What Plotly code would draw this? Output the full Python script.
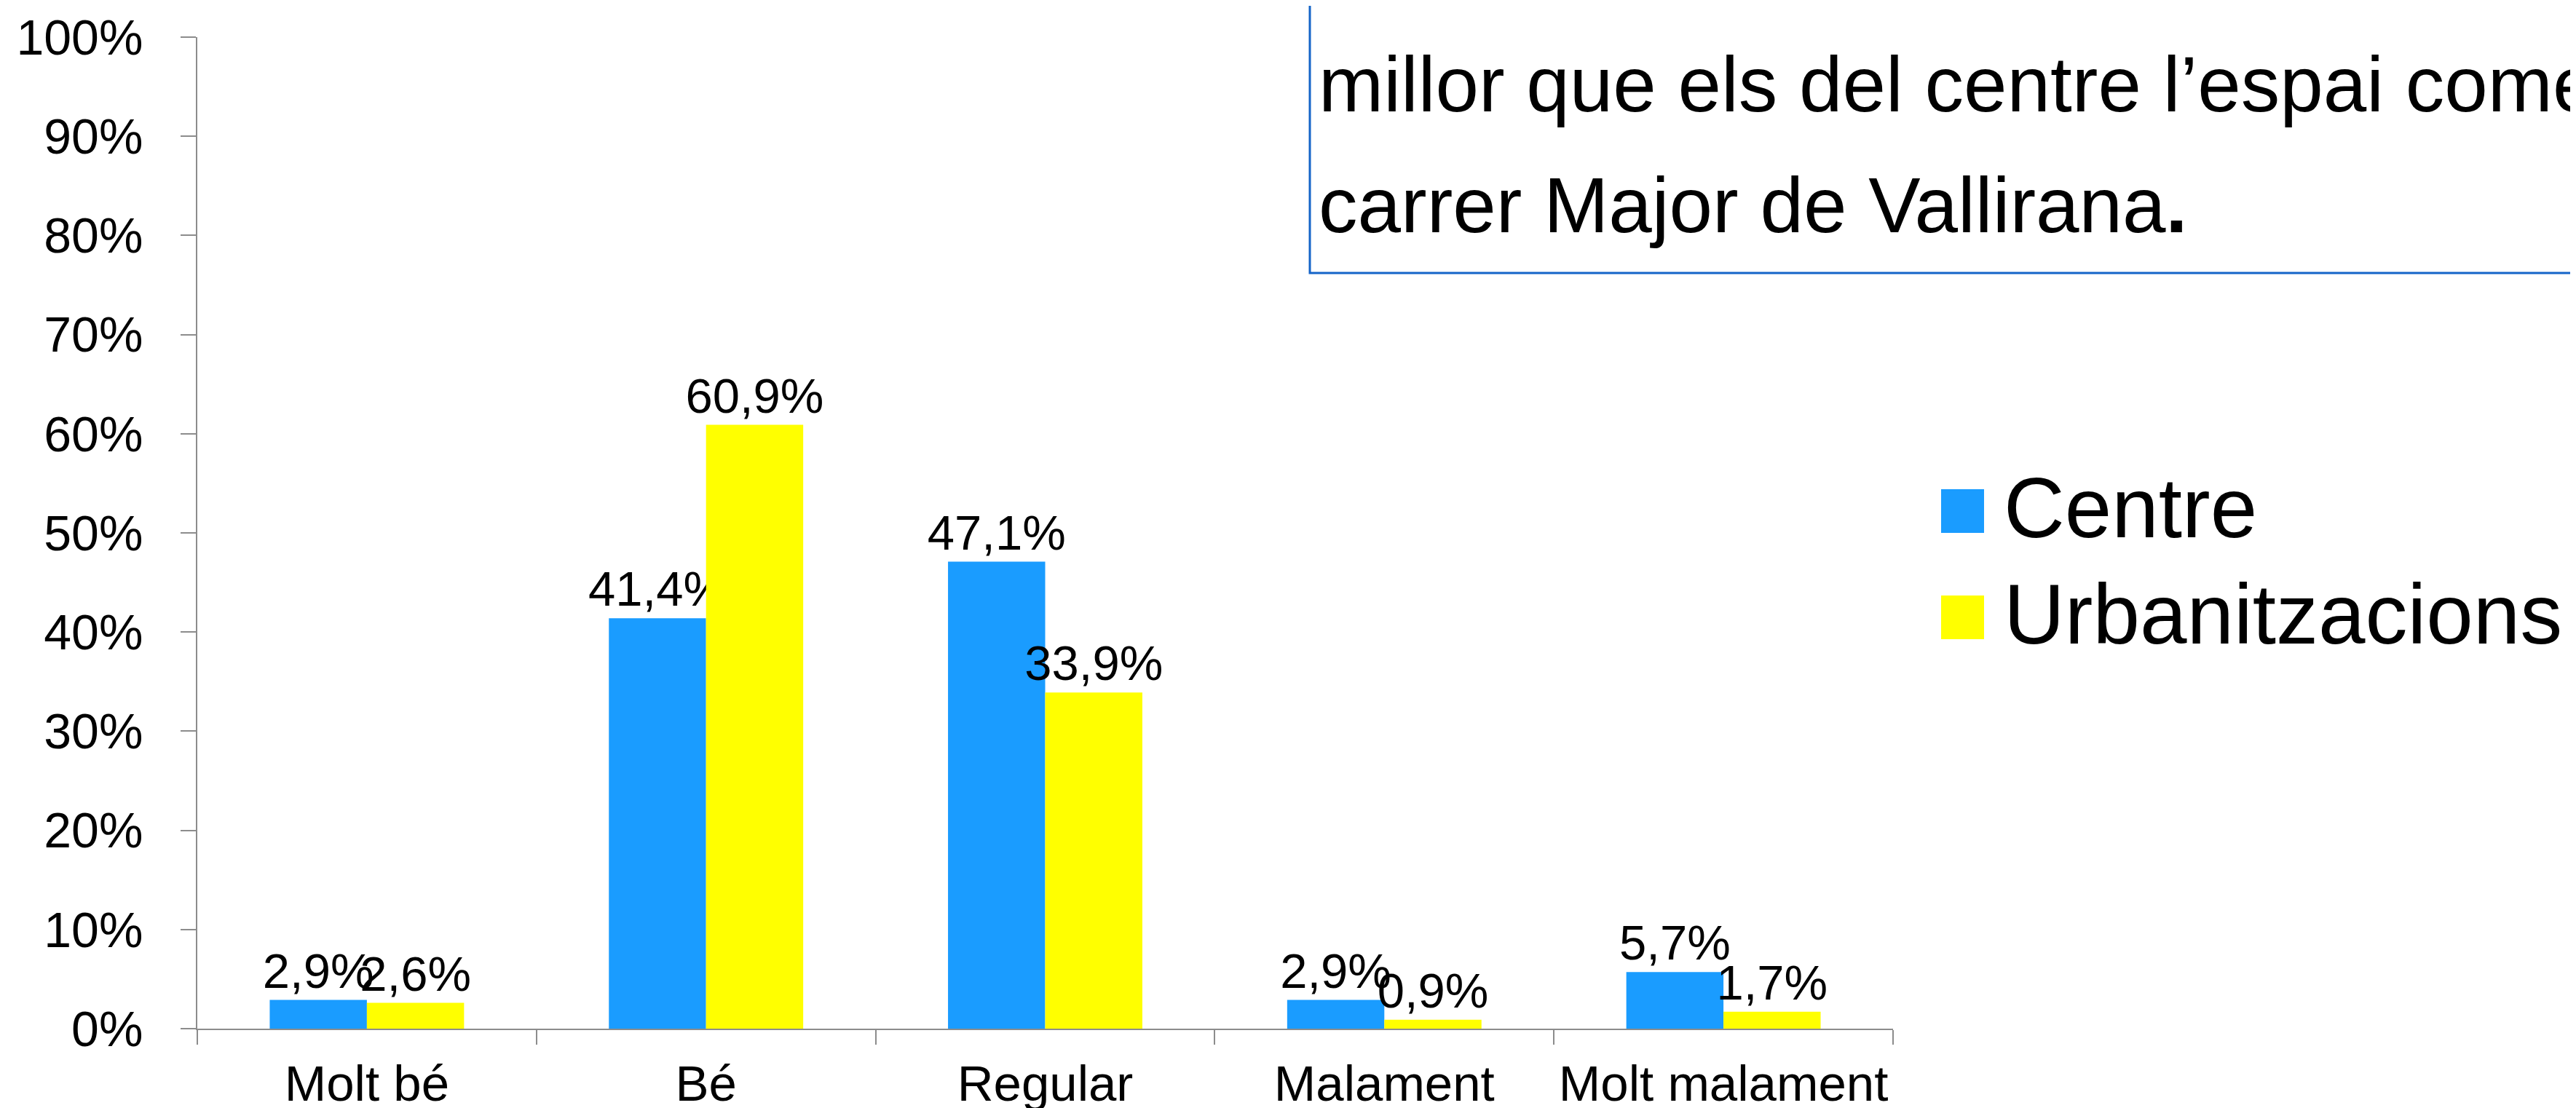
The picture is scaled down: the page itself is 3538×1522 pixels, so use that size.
import plotly.graph_objects as go

categories = ["Molt bé", "Bé", "Regular", "Malament", "Molt malament"]
series_names = ["Centre", "Urbanitzacions"]
centre_values = [2.9, 41.4, 47.1, 2.9, 5.7]
urban_values = [2.6, 60.9, 33.9, 0.9, 1.7]
series_colors = ["#1A9CFF", "#FFFF00"]
y_ticks = [0, 10, 20, 30, 40, 50, 60, 70, 80, 90, 100]
box_lines = ["millor que els del centre l’espai comercial del",
             "carrer Major de Vallirana<b>.</b>"]

W, H = 3538, 1522
L, R, T, B = 263, 2592, 43, 1405
FONT = "Liberation Sans, Arial, sans-serif"
AXIS_COLOR = "#8C8C8C"


def px(x):
    return (x - L) / (R - L)


def py(y):
    return (B - y) / (B - T)


fig = go.Figure()
for name, vals, col in zip(series_names, [centre_values, urban_values], series_colors):
    fig.add_trace(go.Bar(
        x=categories, y=vals, name=name,
        marker=dict(color=col, line=dict(width=0)),
        texttemplate="%{y:.1f}%", textposition="outside",
        constraintext="none", cliponaxis=False,
        textfont=dict(family=FONT, size=67, color="#000000"),
        showlegend=False,
    ))

shapes = []
annotations = []

# legend (drawn manually so that the swatches can be large)
legend_rows = [694, 840]
for name, col, yc in zip(series_names, series_colors, legend_rows):
    shapes.append(dict(type="rect", xref="paper", yref="paper",
                       x0=px(2658), x1=px(2717), y0=py(yc + 30), y1=py(yc - 30),
                       fillcolor=col, line=dict(width=0)))
    annotations.append(dict(text=name, xref="paper", yref="paper",
                            x=px(2742), y=py(yc - 4), xanchor="left", yanchor="middle",
                            showarrow=False,
                            font=dict(family=FONT, size=116, color="#000000")))

# text box in top-right corner
shapes.append(dict(type="rect", xref="paper", yref="paper",
                   x0=px(1791), x1=px(3700), y0=py(367), y1=py(-30),
                   line=dict(color="#1464C8", width=3), fillcolor="rgba(0,0,0,0)"))
for line, base in zip(box_lines, [145, 311]):
    annotations.append(dict(text=line, xref="paper", yref="paper",
                            x=px(1801), y=py(base + 25), xanchor="left", yanchor="bottom",
                            showarrow=False,
                            font=dict(family=FONT, size=107, color="#000000")))

fig.update_layout(
    width=W, height=H,
    margin=dict(l=L, r=W - R, t=T, b=H - B, pad=0, autoexpand=False),
    paper_bgcolor="white", plot_bgcolor="white",
    barmode="group", bargap=0.427, bargroupgap=0,
    separators=",.",
    showlegend=False,
    shapes=shapes, annotations=annotations,
    font=dict(family=FONT, color="#000000"),
)
fig.update_yaxes(
    range=[0, 100], tickvals=y_ticks, ticktext=[f"{v}%" for v in y_ticks],
    automargin=False,
    showgrid=False, zeroline=False,
    showline=True, linecolor=AXIS_COLOR, linewidth=2,
    ticks="outside", ticklen=21, tickwidth=2, tickcolor=AXIS_COLOR,
    tickfont=dict(family=FONT, size=68, color="#000000"),
    ticklabelstandoff=38,
)
fig.update_xaxes(
    automargin=False,
    showgrid=False, zeroline=False,
    showline=True, linecolor=AXIS_COLOR, linewidth=2,
    ticks="outside", tickson="boundaries", ticklen=20, tickwidth=2, tickcolor=AXIS_COLOR,
    tickfont=dict(family=FONT, size=69, color="#000000"),
    ticklabelstandoff=14,
)

fig.write_html("out.html")
